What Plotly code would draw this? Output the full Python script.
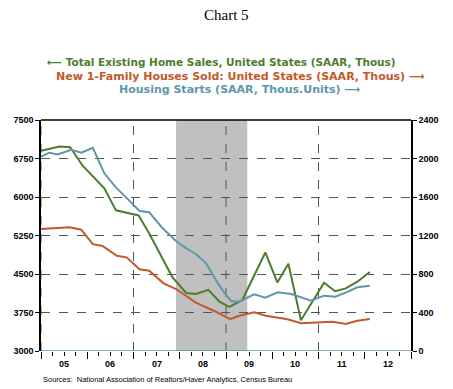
import plotly.graph_objects as go

# ---- data (decimal years) ----
existing_x = [2005.00, 2005.40, 2005.63, 2005.90, 2006.37, 2006.62, 2007.11, 2007.34, 2007.84,
              2008.14, 2008.35, 2008.62, 2008.86, 2009.07, 2009.35, 2009.85, 2010.11, 2010.35,
              2010.62, 2011.12, 2011.36, 2011.59, 2011.84, 2012.11]
existing_sales = [6900, 6985, 6970, 6610, 6170, 5740, 5640, 5290, 4440,
                  4130, 4110, 4190, 3960, 3860, 3990, 4920, 4335, 4700,
                  3600, 4330, 4165, 4220, 4350, 4540]

new_x = [2005.00, 2005.62, 2005.87, 2006.12, 2006.33, 2006.64, 2006.85, 2007.13, 2007.34,
         2007.65, 2007.92, 2008.35, 2008.78, 2009.09, 2009.29, 2009.61, 2009.86, 2010.33,
         2010.62, 2010.94, 2011.30, 2011.59, 2011.84, 2012.11]
new_sales = [1268, 1285, 1260, 1110, 1092, 990, 973, 849, 834,
             703, 644, 502, 408, 332, 366, 402, 367, 329,
             288, 298, 304, 281, 315, 332]

starts_x = [2005.00, 2005.18, 2005.36, 2005.65, 2005.87, 2006.12, 2006.37, 2006.62, 2006.91,
            2007.13, 2007.34, 2007.63, 2007.92, 2008.14, 2008.35, 2008.57, 2008.78, 2008.96,
            2009.11, 2009.27, 2009.61, 2009.85, 2010.12, 2010.41, 2010.84, 2011.12, 2011.36,
            2011.59, 2011.84, 2012.11]
housing_starts = [2019, 2060, 2043, 2090, 2060, 2110, 1846, 1700, 1562,
                  1455, 1441, 1275, 1143, 1067, 1008, 911, 738, 606,
                  519, 510, 589, 554, 610, 592, 523, 575, 564,
                  606, 662, 679]

years = list(range(2005, 2014))
year_labels = ["05", "06", "07", "08", "09", "10", "11", "12"]
left_ticks = [3000, 3750, 4500, 5250, 6000, 6750, 7500]
right_ticks = [0, 400, 800, 1200, 1600, 2000, 2400]
recession = (2007.92, 2009.46)
grid_years = [2005, 2007, 2009, 2011]

GREEN = "#4e7c2e"
ORANGE = "#c2582b"
BLUE = "#5e96aa"

fig = go.Figure()
fig.add_trace(go.Scatter(x=existing_x, y=existing_sales, mode="lines",
                         line=dict(color=GREEN, width=2), yaxis="y", showlegend=False))
fig.add_trace(go.Scatter(x=new_x, y=new_sales, mode="lines",
                         line=dict(color=ORANGE, width=2), yaxis="y2", showlegend=False))
fig.add_trace(go.Scatter(x=starts_x, y=housing_starts, mode="lines",
                         line=dict(color=BLUE, width=2), yaxis="y2", showlegend=False))

shapes = [
    dict(type="rect", xref="x", yref="paper", x0=recession[0], x1=recession[1], y0=0, y1=1,
         fillcolor="#c0c0c0", line=dict(width=0), layer="below"),
    dict(type="line", xref="paper", yref="paper", x0=0, x1=1, y0=1, y1=1,
         line=dict(color="black", width=1.5)),
    dict(type="line", xref="paper", yref="y2", x0=0, x1=1, y0=0, y1=0,
         line=dict(color=BLUE, width=1.5)),
]
for g in grid_years:
    shapes.append(dict(type="line", xref="x", yref="paper", x0=g, x1=g, y0=0, y1=1,
                       line=dict(color="#555555", width=1, dash="dash"), layer="below"))

tickfont = dict(family="Liberation Sans, Arial", size=9, color="black", weight="bold")

annotations = []
annotations.append(dict(text="Chart 5", xref="paper", yref="paper", x=0.5, y=1.455,
                        showarrow=False, yanchor="middle",
                        font=dict(family="Liberation Serif, Times New Roman", size=15, color="black")))
annotations.append(dict(text="⟵ Total Existing Home Sales, United States (SAAR, Thous)",
                        xref="paper", yref="paper", x=0.965, y=1.251, showarrow=False,
                        xanchor="right", yanchor="middle",
                        font=dict(color=GREEN, family="DejaVu Sans", size=10.5, weight="bold")))
annotations.append(dict(text="New 1-Family Houses Sold: United States (SAAR, Thous) ⟶",
                        xref="paper", yref="paper", x=0.035, y=1.190, showarrow=False,
                        xanchor="left", yanchor="middle",
                        font=dict(color=ORANGE, family="DejaVu Sans", size=11, weight="bold")))
annotations.append(dict(text="Housing Starts (SAAR, Thous.Units) ⟶",
                        xref="paper", yref="paper", x=0.205, y=1.130, showarrow=False,
                        xanchor="left", yanchor="middle",
                        font=dict(color=BLUE, family="DejaVu Sans", size=11, weight="bold")))
for i, lab in enumerate(year_labels):
    annotations.append(dict(text=lab, xref="x", yref="paper", x=years[i] + 0.5, y=-0.025,
                            yanchor="top", showarrow=False, font=tickfont))
annotations.append(dict(text="Sources:  National Association of Realtors/Haver Analytics, Census Bureau",
                        xref="paper", yref="paper", x=0.0, y=-0.095, xanchor="left", yanchor="top",
                        showarrow=False,
                        font=dict(family="Liberation Sans, Arial", size=7.5, color="black")))

fig.update_layout(
    width=453, height=389,
    margin=dict(l=41, r=42, t=120, b=38),
    paper_bgcolor="white", plot_bgcolor="white",
    showlegend=False,
    shapes=shapes,
    annotations=annotations,
    xaxis=dict(range=[2005, 2013], tickvals=years, ticks="outside", ticklen=7,
               tickcolor="black", tickwidth=1, showticklabels=False, showgrid=False,
               zeroline=False, showline=False,
               minor=dict(tick0=2005, dtick=0.25, ticks="outside", ticklen=4,
                          tickcolor="black", showgrid=False)),
    yaxis=dict(range=[3000, 7500], tickvals=left_ticks, ticks="outside", ticklen=4,
               tickcolor="black", showline=True, linecolor="black", linewidth=1.5,
               showgrid=True, gridcolor="#555555", griddash="dash", gridwidth=1,
               zeroline=False, tickfont=tickfont),
    yaxis2=dict(range=[0, 2400], tickvals=right_ticks, overlaying="y", side="right",
                ticks="outside", ticklen=4, tickcolor="black", showline=True,
                linecolor="black", linewidth=1.5, showgrid=False, zeroline=False,
                tickfont=tickfont),
)

fig.write_html("out.html", config={"displayModeBar": False},
               post_script="document.body.style.margin='0';document.body.style.overflow='hidden';")
